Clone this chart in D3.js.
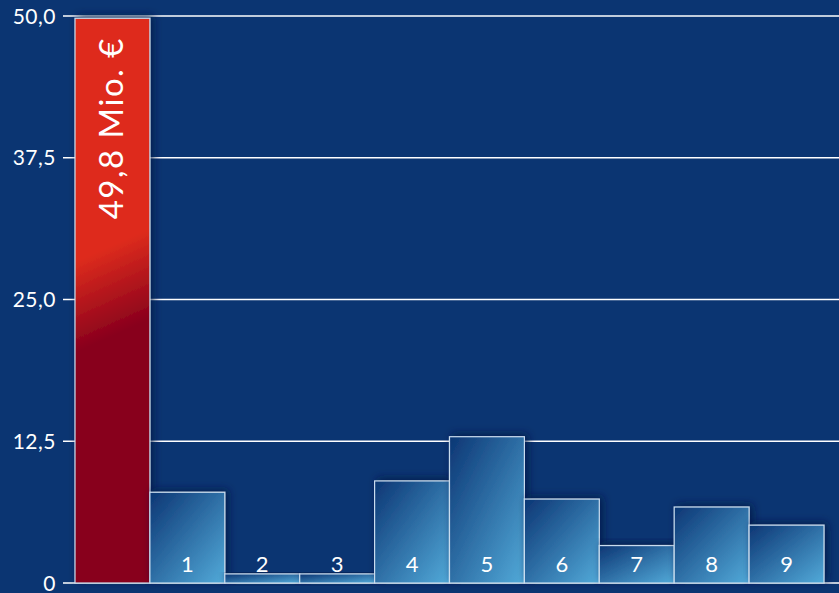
<!DOCTYPE html>
<html>
<head>
<meta charset="utf-8">
<script src="https://cdn.jsdelivr.net/npm/d3@7"></script>
<style>
  html, body { margin: 0; padding: 0; background: #0b3572; }
  svg { display: block; }
</style>
</head>
<body>
<div id="chart"></div>
<script>
var width = 839,
    height = 593;

// data
var categories = ["total", "1", "2", "3", "4", "5", "6", "7", "8", "9"];
var values = [49.8, 8.0, 0.8, 0.8, 9.0, 12.9, 7.4, 3.3, 6.7, 5.1];
var barLabels = ["", "1", "2", "3", "4", "5", "6", "7", "8", "9"];
var tickValues = [0, 12.5, 25, 37.5, 50];
var tickLabels = ["0", "12,5", "25,0", "37,5", "50,0"];
var totalLabel = "49,8 Mio. €";

var svg = d3.select("#chart")
  .append("svg")
    .attr("width", width)
    .attr("height", height);

var defs = svg.append("defs");

var blue = defs.append("linearGradient")
    .attr("id", "blueGrad")
    .attr("x1", "0").attr("y1", "0")
    .attr("x2", "1").attr("y2", "1");
blue.append("stop").attr("offset", "0%").attr("stop-color", "#0c3674");
blue.append("stop").attr("offset", "100%").attr("stop-color", "#52aad9");

var red = defs.append("linearGradient")
    .attr("id", "redGrad")
    .attr("gradientUnits", "userSpaceOnUse")
    .attr("x1", 97).attr("y1", 252)
    .attr("x2", 131).attr("y2", 328);
red.append("stop").attr("offset", "0%").attr("stop-color", "#de2c1e");
red.append("stop").attr("offset", "100%").attr("stop-color", "#88001c");

var shadow = defs.append("filter")
    .attr("id", "shadow")
    .attr("x", "-20%").attr("y", "-20%")
    .attr("width", "150%").attr("height", "150%");
shadow.append("feDropShadow")
    .attr("dx", 3).attr("dy", -2)
    .attr("stdDeviation", 4)
    .attr("flood-color", "#021a45")
    .attr("flood-opacity", 0.8);

var x = d3.scaleBand()
  .domain(categories)
  .range([75, 824])
  .padding(0);

var y = d3.scaleLinear()
  .domain([0, 50])
  .range([583, 16]);

// grid lines
svg.append("g")
  .selectAll("line")
  .data(tickValues)
  .enter()
  .append("line")
    .attr("x1", 63)
    .attr("x2", width)
    .attr("y1", function(d) { return y(d); })
    .attr("y2", function(d) { return y(d); })
    .attr("stroke", "#ffffff")
    .attr("stroke-width", 1.5);

// tick labels
svg.append("g")
  .selectAll("text")
  .data(tickValues)
  .enter()
  .append("text")
    .attr("x", 56)
    .attr("y", function(d) { return y(d); })
    .attr("dy", "0.36em")
    .attr("text-anchor", "end")
    .attr("fill", "#ffffff")
    .style("font-family", "Lato, 'Open Sans', sans-serif")
    .style("font-size", "21px")
    .style("letter-spacing", "0.5px")
    .text(function(d, i) { return tickLabels[i]; });

// bars
svg.append("g")
  .selectAll("rect")
  .data(values)
  .enter()
  .append("rect")
    .attr("x", function(d, i) { return x(categories[i]); })
    .attr("y", function(d) { return y(d); })
    .attr("width", x.bandwidth())
    .attr("height", function(d) { return y(0) - y(d); })
    .attr("fill", function(d, i) { return i === 0 ? "url(#redGrad)" : "url(#blueGrad)"; })
    .attr("stroke", "#c9dcef")
    .attr("stroke-width", 1.2)
    .attr("filter", "url(#shadow)");

// bar numbers
svg.append("g")
  .selectAll("text")
  .data(categories)
  .enter()
  .append("text")
    .attr("x", function(d) { return x(d) + x.bandwidth() / 2; })
    .attr("y", 572)
    .attr("text-anchor", "middle")
    .attr("fill", "#ffffff")
    .style("font-family", "Lato, 'Open Sans', sans-serif")
    .style("font-size", "22px")
    .text(function(d, i) { return barLabels[i]; });

// rotated total label, reads bottom to top
var cx = x("total") + x.bandwidth() / 2;
svg.append("text")
  .attr("transform", "translate(" + (cx + 11) + "," + 37 + ") rotate(-90)")
  .attr("text-anchor", "end")
  .attr("fill", "#ffffff")
  .style("font-family", "Lato, 'Open Sans', sans-serif")
  .style("font-size", "33px")
  .style("letter-spacing", "1.5px")
  .text(totalLabel);
</script>
</body>
</html>
